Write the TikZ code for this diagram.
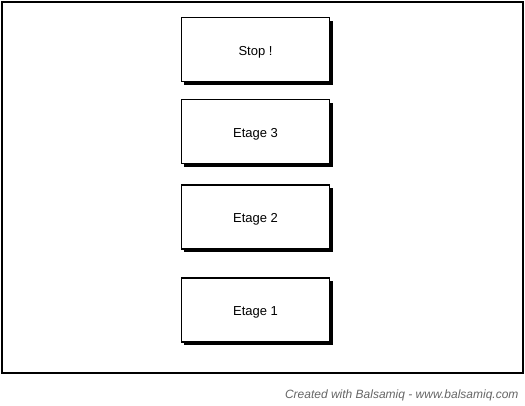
\documentclass[tikz,border=0pt]{standalone}
\usepackage{fontspec}
\setmainfont{Liberation Sans}
\begin{document}
\begin{tikzpicture}[x=1pt,y=-1pt,
  btn/.style={draw=black,line width=1.3pt,fill=white,minimum width=148pt,minimum height=64pt,inner sep=0pt},
  lbl/.style={inner sep=0pt,font=\fontsize{13}{15}\selectfont}]
\useasboundingbox (0,0) rectangle (525,405);
\fill[white] (0,0) rectangle (525,405);
\draw[line width=2pt] (2,2) rectangle (523,373);
\foreach \n/\y/\t in {stop/49.5/{Stop !},e3/131.5/{Etage 3},e2/217/{Etage 2},e1/310/{Etage 1}}{
  \fill[black] (184,\y-29) rectangle (333,\y+35);
  \node[btn] (\n) at (255.5,\y) {};
  \node[lbl] (\n-t) at ([yshift=-2.5pt]\n.center) {\t};
}
\node[anchor=east,text=black!60,font=\fontsize{12}{14}\selectfont\itshape] (foot) at (522,395) {Created with Balsamiq - www.balsamiq.com};
\end{tikzpicture}
\end{document}
